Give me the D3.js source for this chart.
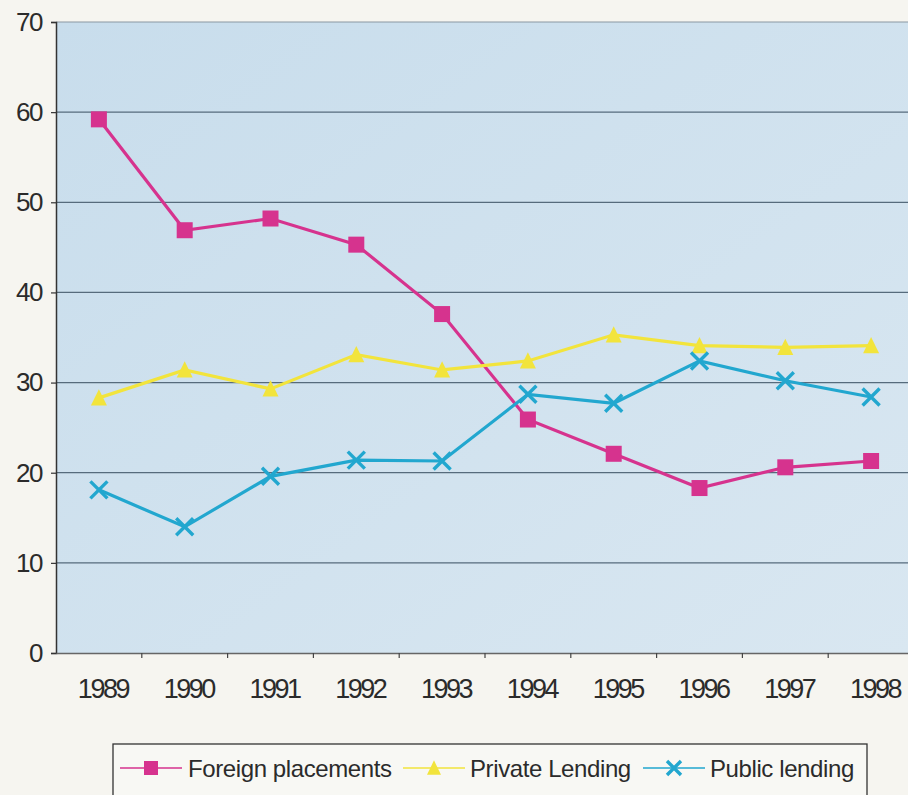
<!DOCTYPE html>
<html>
<head>
<meta charset="utf-8">
<script src="https://cdn.jsdelivr.net/npm/d3@7"></script>
<style>
  html, body { margin: 0; padding: 0; background: #f6f5f0; }
  svg { display: block; }
  text { font-family: "Liberation Sans", Arial, sans-serif; fill: #2b2b2b; }
</style>
</head>
<body>
<svg id="chart" width="908" height="795"></svg>
<script>
const years = ["1989","1990","1991","1992","1993","1994","1995","1996","1997","1998"];
const foreignPlacements = [59.2, 46.9, 48.2, 45.3, 37.6, 25.9, 22.1, 18.3, 20.6, 21.3];
const privateLending   = [28.3, 31.4, 29.3, 33.1, 31.4, 32.4, 35.3, 34.1, 33.9, 34.1];
const publicLending    = [18.1, 14.0, 19.6, 21.4, 21.3, 28.7, 27.7, 32.4, 30.2, 28.4];
const yTicks = [0, 10, 20, 30, 40, 50, 60, 70];
const seriesNames = ["Foreign placements", "Private Lending", "Public lending"];

const series = [
  { name: seriesNames[0], values: foreignPlacements, color: "#d6338e", marker: "square" },
  { name: seriesNames[1], values: privateLending,   color: "#f2e43c", marker: "triangle" },
  { name: seriesNames[2], values: publicLending,    color: "#22a7cf", marker: "cross" }
];

const svg = d3.select("#chart");
const x = d3.scaleBand().domain(years).range([56, 914]).padding(0);
const y = d3.scaleLinear().domain([0, 70]).range([653, 22]);

// plot background
const defs = svg.append("defs");
const grad = defs.append("linearGradient").attr("id", "bg").attr("x1", "0").attr("x2", "1").attr("y1", "0").attr("y2", "1");
grad.append("stop").attr("offset", "0%").attr("stop-color", "#c8ddec");
grad.append("stop").attr("offset", "100%").attr("stop-color", "#d9e7f1");
svg.append("rect")
  .attr("x", x.range()[0]).attr("y", y(70))
  .attr("width", x.range()[1] - x.range()[0]).attr("height", y(0) - y(70))
  .attr("fill", "url(#bg)");

// gridlines
svg.append("g").selectAll("line").data(yTicks.filter(d => d > 0)).join("line")
  .attr("x1", x.range()[0]).attr("x2", x.range()[1])
  .attr("y1", d => y(d)).attr("y2", d => y(d))
  .attr("stroke", d => d === 70 ? "#8a97a2" : "#566b7c").attr("stroke-width", 1.2);

// y axis
const yAxis = d3.axisLeft(y).tickValues(yTicks).tickSize(5).tickPadding(9).tickFormat(d3.format("d"));
const gy = svg.append("g").attr("transform", `translate(${x.range()[0]},0)`).call(yAxis);
gy.select(".domain").attr("stroke", "#333").attr("stroke-width", 1.5);
gy.selectAll(".tick line").attr("stroke", "#333").attr("stroke-width", 1.2);
gy.selectAll(".tick text").attr("font-size", 26).attr("letter-spacing", "-1.5px").attr("fill", "#2b2b2b")
  .style("font-family", "'Liberation Sans', Arial, sans-serif");

// x axis
const xAxis = d3.axisBottom(x).tickSize(0).tickPadding(0);
const gx = svg.append("g").attr("transform", `translate(0,${y(0)})`).call(xAxis);
gx.select(".domain").attr("stroke", "#666").attr("stroke-width", 1.3);
gx.selectAll(".tick text").attr("font-size", 27).attr("letter-spacing", "-2.5px")
  .attr("dy", 0).attr("y", 45).attr("dx", 4).attr("fill", "#2b2b2b")
  .style("font-family", "'Liberation Sans', Arial, sans-serif");
// tick marks at category boundaries
svg.append("g").selectAll("line").data(years.slice(1)).join("line")
  .attr("x1", d => x(d)).attr("x2", d => x(d))
  .attr("y1", y(0)).attr("y2", y(0) + 5)
  .attr("stroke", "#444").attr("stroke-width", 1.2);

const cx = d => x(d) + x.bandwidth() / 2;

function drawMarker(g, type, color, px, py, s) {
  if (type === "square") {
    g.append("rect").attr("x", px - s/2).attr("y", py - s/2).attr("width", s).attr("height", s).attr("fill", color);
  } else if (type === "triangle") {
    const h = s * 0.95;
    g.append("path").attr("d", `M${px},${py - h/2 - 1} L${px + s/2},${py + h/2} L${px - s/2},${py + h/2} Z`).attr("fill", color);
  } else {
    const r = s / 2;
    g.append("path").attr("d", `M${px - r},${py - r} L${px + r},${py + r} M${px - r},${py + r} L${px + r},${py - r}`)
      .attr("stroke", color).attr("stroke-width", 3.4).attr("fill", "none");
  }
}

const line = d3.line().x((d, i) => cx(years[i])).y(d => y(d));

series.forEach(s => {
  const g = svg.append("g");
  g.append("path").attr("d", line(s.values)).attr("fill", "none")
    .attr("stroke", s.color).attr("stroke-width", 3.2);
  s.values.forEach((v, i) => drawMarker(g, s.marker, s.color, cx(years[i]), y(v), s.marker === "cross" ? 17 : 16));
});

// legend
const lg = svg.append("g");
lg.append("rect").attr("x", 113).attr("y", 744).attr("width", 754).attr("height", 60)
  .attr("fill", "#f8f8f4").attr("stroke", "#333").attr("stroke-width", 1.3);
const legendPos = [
  { lx1: 120, lx2: 182, tx: 188 },
  { lx1: 403, lx2: 465, tx: 470 },
  { lx1: 643, lx2: 705, tx: 710 }
];
series.forEach((s, i) => {
  const p = legendPos[i];
  const ly = 768;
  lg.append("line").attr("x1", p.lx1).attr("x2", p.lx2).attr("y1", ly).attr("y2", ly)
    .attr("stroke", s.color).attr("stroke-width", 1.6);
  drawMarker(lg, s.marker, s.color, (p.lx1 + p.lx2) / 2, ly, 14);
  lg.append("text").attr("x", p.tx).attr("y", ly + 9).attr("font-size", 24)
    .attr("letter-spacing", "-0.4px").text(s.name);
});
</script>
</body>
</html>
